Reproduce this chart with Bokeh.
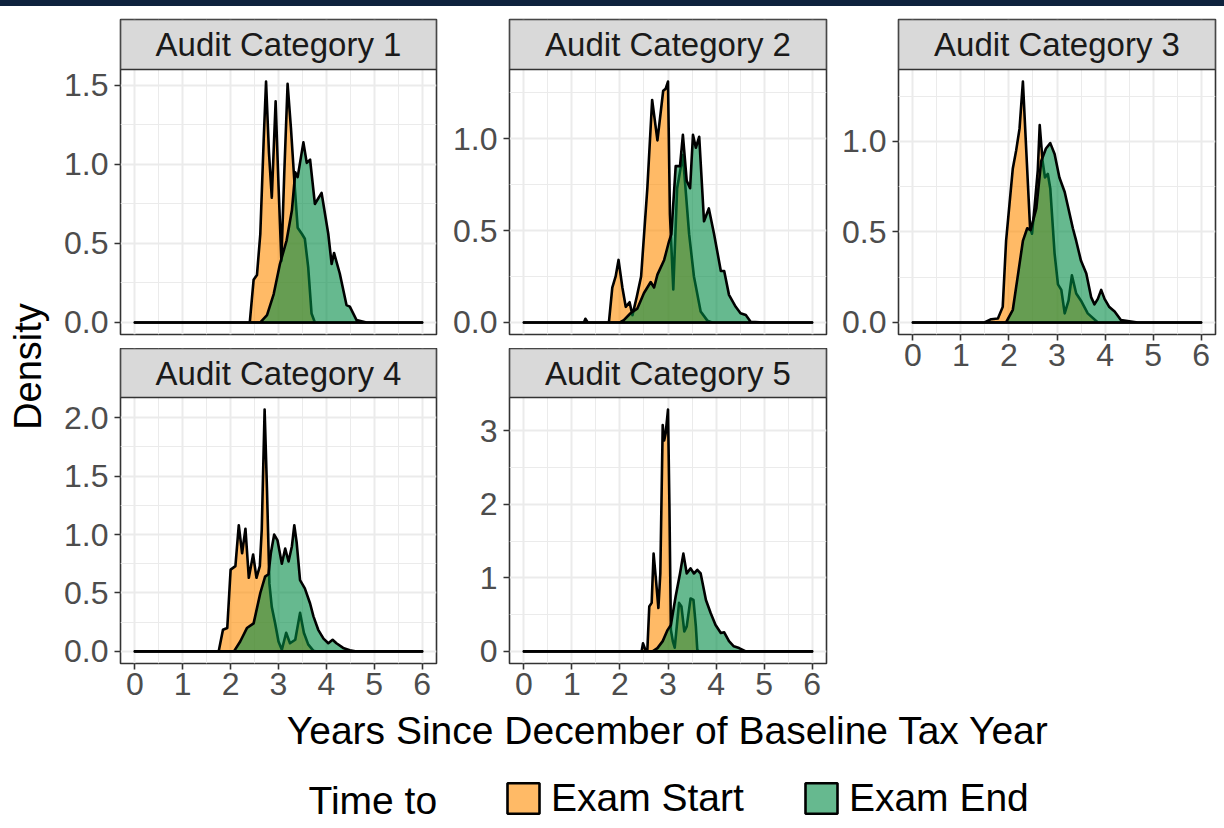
from math import pi

from bokeh.core.properties import value
from bokeh.embed import file_html
from bokeh.layouts import column, row
from bokeh.models import Div, FixedTicker, Legend, LegendItem, PrintfTickFormatter, Range1d
from bokeh.plotting import figure
from bokeh.resources import INLINE

# ---------------------------------------------------------------- data
facet_labels = ["Audit Category 1", "Audit Category 2", "Audit Category 3",
                "Audit Category 4", "Audit Category 5"]
series_labels = ["Exam Start", "Exam End"]
legend_title = "Time to"
x_title = "Years Since December of Baseline Tax Year"
y_title = "Density"

x_ticks = [0, 1, 2, 3, 4, 5, 6]
x_minor = [0.5, 1.5, 2.5, 3.5, 4.5, 5.5]
y_ticks = [
    [0, 0.5, 1.0, 1.5],
    [0, 0.5, 1.0],
    [0, 0.5, 1.0],
    [0, 0.5, 1.0, 1.5, 2.0],
    [0, 1, 2, 3],
]
y_minor = [
    [0.25, 0.75, 1.25],
    [0.25, 0.75, 1.25],
    [0.25, 0.75, 1.25],
    [0.25, 0.75, 1.25, 1.75],
    [0.5, 1.5, 2.5],
]
y_formats = ["%.1f", "%.1f", "%.1f", "%.1f", "%d"]

# density of years until exam start, per audit category
start_x = [
    [0, 2.40, 2.48, 2.55, 2.62, 2.69, 2.74, 2.80, 2.86, 2.94, 3.00, 3.06, 3.12, 3.19,
     3.26, 3.33, 3.40, 3.49, 3.55, 3.62, 3.69, 3.76, 6],
    [0, 1.25, 1.28, 1.33, 1.77, 1.84, 1.91, 1.97, 2.05, 2.12, 2.20, 2.26, 2.35, 2.44,
     2.57, 2.67, 2.78, 2.90, 2.95, 3.00, 3.04, 3.11, 3.19, 3.31, 3.44, 3.54, 3.68,
     3.82, 3.92, 6],
    [0, 1.49, 1.63, 1.77, 1.87, 1.94, 2.01, 2.08, 2.15, 2.22, 2.29, 2.36, 2.44, 2.48,
     2.53, 2.60, 2.64, 2.70, 2.75, 2.81, 2.86, 2.95, 3.02, 3.09, 3.16, 3.24, 3.31,
     3.40, 3.50, 3.64, 3.85, 6],
    [0, 1.75, 1.84, 1.93, 2.00, 2.10, 2.17, 2.24, 2.31, 2.38, 2.47, 2.54, 2.61, 2.65,
     2.71, 2.76, 2.81, 2.86, 2.93, 3.00, 3.07, 3.16, 3.24, 3.35, 3.45, 3.53, 3.62,
     3.73, 3.80, 6],
    [0, 2.45, 2.48, 2.53, 2.57, 2.61, 2.66, 2.70, 2.75, 2.80, 2.84, 2.89, 2.92, 2.95,
     3.00, 3.03, 3.06, 3.10, 3.14, 3.23, 3.28, 3.34, 3.39, 3.47, 3.53, 3.58, 3.61,
     3.65, 6],
]
start_y = [
    [0, 0, 0.27, 0.30, 0.56, 1.15, 1.525, 1.08, 0.79, 1.40, 0.87, 0.39, 0.94, 1.51,
     1.23, 0.90, 0.60, 0.56, 0.53, 0.35, 0.057, 0, 0],
    [0, 0, 0.02, 0, 0, 0.19, 0.25, 0.34, 0.19, 0.085, 0.11, 0.04, 0.14, 0.25,
     0.73, 1.21, 0.99, 1.26, 1.27, 1.31, 0.59, 0.18, 0.73, 0.91, 0.48, 0.25, 0.06,
     0.01, 0, 0],
    [0, 0, 0.018, 0.022, 0.086, 0.45, 0.65, 0.85, 0.95, 1.07, 1.33, 0.95, 0.52, 0.49,
     0.63, 0.84, 1.09, 0.89, 0.80, 0.82, 0.74, 0.38, 0.21, 0.18, 0.05, 0.12, 0.26,
     0.16, 0.12, 0.05, 0, 0],
    [0, 0, 0.185, 0.20, 0.70, 0.73, 1.08, 0.84, 1.05, 0.63, 0.83, 0.63, 0.73, 1.04,
     2.07, 1.38, 0.58, 0.38, 0.24, 0.085, 0.014, 0.16, 0.07, 0.10, 0.33, 0.16, 0.06,
     0.005, 0, 0],
    [0, 0, 0.11, 0.02, 0.02, 0.61, 0.66, 1.33, 0.97, 0.59, 1.06, 3.08, 2.87, 2.96,
     3.29, 1.97, 0.29, 0.14, 0.05, 0.66, 0.61, 0.27, 0.34, 0.72, 0.70, 0.34, 0.02,
     0, 0],
]

# density of years until exam end, per audit category
end_x = [
    [0, 2.62, 2.76, 2.90, 3.03, 3.17, 3.28, 3.35, 3.40, 3.52, 3.59, 3.66, 3.76, 3.90,
     4.04, 4.11, 4.16, 4.28, 4.42, 4.49, 4.63, 4.84, 6],
    [0, 2.00, 2.08, 2.22, 2.36, 2.50, 2.64, 2.71, 2.78, 2.92, 3.02, 3.07, 3.16, 3.25,
     3.31, 3.39, 3.46, 3.52, 3.58, 3.65, 3.75, 3.85, 3.96, 4.10, 4.17, 4.27, 4.41,
     4.51, 4.62, 4.72, 5.00, 6],
    [0, 1.94, 2.08, 2.18, 2.29, 2.38, 2.45, 2.57, 2.67, 2.77, 2.86, 2.95, 3.05, 3.16,
     3.22, 3.33, 3.40, 3.50, 3.61, 3.71, 3.78, 3.85, 3.92, 3.99, 4.09, 4.20, 4.33,
     4.68, 6],
    [0, 2.07, 2.20, 2.34, 2.48, 2.62, 2.72, 2.79, 2.84, 2.91, 2.98, 3.07, 3.14, 3.21,
     3.28, 3.33, 3.38, 3.45, 3.55, 3.66, 3.73, 3.83, 3.94, 4.04, 4.13, 4.21, 4.35,
     4.49, 4.63, 6],
    [0, 2.68, 2.78, 2.89, 2.99, 3.06, 3.16, 3.25, 3.32, 3.39, 3.47, 3.54, 3.61, 3.68,
     3.79, 3.89, 3.99, 4.10, 4.17, 4.27, 4.37, 4.48, 4.62, 6],
]
end_y = [
    [0, 0, 0.046, 0.18, 0.37, 0.52, 0.71, 0.95, 0.92, 1.14, 1.01, 1.03, 0.75, 0.82,
     0.56, 0.37, 0.44, 0.31, 0.11, 0.10, 0.015, 0, 0],
    [0, 0, 0.013, 0.05, 0.075, 0.16, 0.22, 0.19, 0.26, 0.34, 0.44, 0.48, 0.85, 0.85,
     1.02, 0.77, 0.73, 1.02, 0.95, 1.01, 0.55, 0.62, 0.48, 0.28, 0.28, 0.15, 0.085,
     0.05, 0.04, 0.004, 0, 0],
    [0, 0, 0.07, 0.25, 0.45, 0.52, 0.51, 0.63, 0.89, 0.96, 0.99, 0.93, 0.80, 0.72,
     0.65, 0.52, 0.45, 0.34, 0.27, 0.14, 0.10, 0.13, 0.18, 0.13, 0.085, 0.06, 0.013,
     0, 0],
    [0, 0, 0.085, 0.20, 0.24, 0.50, 0.64, 0.66, 0.84, 1.00, 0.95, 0.75, 0.88, 0.77,
     0.90, 1.08, 0.93, 0.61, 0.54, 0.41, 0.30, 0.185, 0.11, 0.07, 0.10, 0.07, 0.03,
     0.01, 0, 0],
    [0, 0, 0.045, 0.14, 0.29, 0.36, 0.75, 1.06, 1.33, 1.06, 1.13, 1.06, 1.11, 1.06,
     0.70, 0.52, 0.36, 0.25, 0.26, 0.14, 0.07, 0.045, 0, 0],
]

# ---------------------------------------------------------------- style
FONT = "Liberation Sans"
START_COLOR = "#FF8C00"
END_COLOR = "#008B45"
FILL_ALPHA = 0.6
BORDER = "#333333"
GRID = "#EBEBEB"
STRIP_FILL = "#D9D9D9"
TICK_TEXT = "#4D4D4D"
OUTLINE_W = 2.6
X_LO, X_HI = -0.3, 6.3


def panel(i, width, height, left, right, top, bottom, plot_px, strip_px, show_x):
    """One facet: the density area plus its grey label strip on top of the frame."""
    peak = max(max(start_y[i]), max(end_y[i]))
    y_lo, y_hi = -0.05 * peak, 1.05 * peak
    per_px = (y_hi - y_lo) / plot_px
    y_top = y_hi + strip_px * per_px

    p = figure(width=width, height=height,
               x_range=Range1d(X_LO, X_HI), y_range=Range1d(y_lo, y_top),
               x_axis_location="below" if show_x else None,
               output_backend="svg", toolbar_location=None,
               min_border_left=left, min_border_right=right,
               min_border_top=top, min_border_bottom=bottom,
               background_fill_color="white", border_fill_color="white",
               outline_line_color=BORDER, outline_line_width=1.6)

    xt = FixedTicker(ticks=x_ticks, minor_ticks=x_minor)
    yt = FixedTicker(ticks=y_ticks[i], minor_ticks=y_minor[i])
    p.xgrid.ticker = xt
    p.ygrid.ticker = yt
    p.yaxis.ticker = yt
    p.yaxis.formatter = PrintfTickFormatter(format=y_formats[i])
    if show_x:
        p.xaxis.ticker = xt

    for g in (p.xgrid, p.ygrid):
        g.grid_line_color = GRID
        g.grid_line_width = 2
        g.minor_grid_line_color = GRID
        g.minor_grid_line_width = 1

    for ax in p.axis:
        ax.axis_line_color = None
        ax.major_tick_out = 6
        ax.major_tick_in = 0
        ax.minor_tick_out = 0
        ax.minor_tick_in = 0
        ax.major_tick_line_color = BORDER
        ax.major_tick_line_width = 1.6
        ax.major_label_text_font = FONT
        ax.major_label_text_font_size = "32px"
        ax.major_label_text_color = TICK_TEXT
        ax.major_label_standoff = 6
    if show_x:
        p.xaxis.major_label_standoff = 3

    p.patch(start_x[i], start_y[i], fill_color=START_COLOR, fill_alpha=FILL_ALPHA,
            line_color="black", line_width=OUTLINE_W, line_join="round")
    p.patch(end_x[i], end_y[i], fill_color=END_COLOR, fill_alpha=FILL_ALPHA,
            line_color="black", line_width=OUTLINE_W, line_join="round")

    # facet label strip
    p.quad(left=[X_LO], right=[X_HI], bottom=[y_hi], top=[y_top],
           fill_color=STRIP_FILL, line_color=BORDER, line_width=1.6)
    p.text(x=[(X_LO + X_HI) / 2], y=[(y_hi + y_top) / 2], text=[facet_labels[i]],
           text_align="center", text_baseline="middle", text_font=value(FONT),
           text_font_size="33px", text_color="#1A1A1A")
    return p


# ---------------------------------------------------------------- layout
top_bar = Div(text="", width=1224, height=6, margin=(0, 0, 0, 0),
              styles={"background-color": "#0E223D"})

ylab = figure(width=50, height=702, x_range=Range1d(0, 50), y_range=Range1d(0, 702),
              x_axis_location=None, y_axis_location=None, output_backend="svg",
              toolbar_location=None, min_border=0, outline_line_color=None)
ylab.grid.visible = False
ylab.text(x=[27], y=[342], text=[y_title], angle=pi / 2, text_align="center",
          text_baseline="middle", text_font=value(FONT), text_font_size="38px",
          text_color="black")

col1 = column(
    panel(0, 390, 342, 70, 4, 13, 14, 265, 50, False),
    panel(3, 390, 360, 70, 4, 0, 45, 266, 49, True),
    spacing=0,
)
col2 = column(
    panel(1, 390, 342, 69, 4, 13, 14, 265, 50, False),
    panel(4, 390, 360, 69, 4, 0, 45, 266, 49, True),
    spacing=0,
)
col3 = column(
    panel(2, 394, 702, 68, 9, 13, 374, 265, 50, True),
    spacing=0,
)

bottom = figure(width=1224, height=120, x_range=Range1d(0, 1224), y_range=Range1d(0, 120),
                x_axis_location=None, y_axis_location=None, output_backend="svg",
                toolbar_location=None, min_border=0, outline_line_color=None)
bottom.grid.visible = False
bottom.text(x=[667.5], y=[98], text=[x_title], text_align="center",
            text_baseline="middle", text_font=value(FONT), text_font_size="39px",
            text_color="black")
bottom.text(x=[308], y=[28], text=[legend_title], text_align="left", text_baseline="middle",
            text_font=value(FONT), text_font_size="39px", text_color="black")
r_start = bottom.patch(x=[float("nan")], y=[float("nan")], fill_color=START_COLOR,
                       fill_alpha=FILL_ALPHA, line_color="black", line_width=OUTLINE_W)
r_end = bottom.patch(x=[float("nan")], y=[float("nan")], fill_color=END_COLOR,
                     fill_alpha=FILL_ALPHA, line_color="black", line_width=OUTLINE_W)
legend = Legend(items=[LegendItem(label=series_labels[0], renderers=[r_start]),
                       LegendItem(label=series_labels[1], renderers=[r_end])],
                orientation="horizontal", location=(503, 8),
                glyph_width=40, glyph_height=38, label_height=38, label_standoff=8,
                spacing=57, padding=0, margin=0, border_line_color=None,
                background_fill_alpha=0, label_text_font=FONT,
                label_text_font_size="39px", label_text_color="black")
bottom.add_layout(legend, "center")

layout = column(top_bar, row(ylab, col1, col2, col3, spacing=0), bottom, spacing=0)

open("out.html", "w").write(file_html(layout, INLINE))
